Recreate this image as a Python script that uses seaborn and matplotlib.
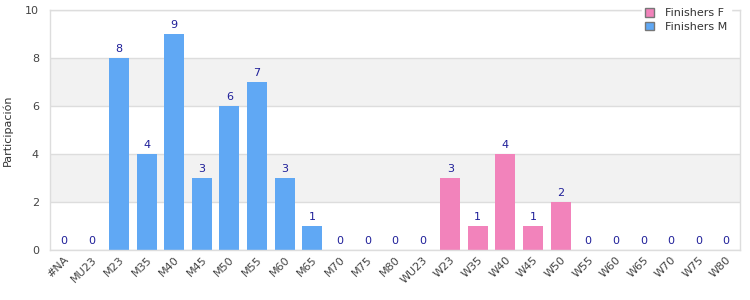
import matplotlib
matplotlib.use("Agg")
import matplotlib.pyplot as plt
import seaborn as sns
import pandas as pd
from matplotlib.patches import Patch

categories = ["#NA", "MU23", "M23", "M35", "M40", "M45", "M50", "M55", "M60", "M65",
              "M70", "M75", "M80", "WU23", "W23", "W35", "W40", "W45", "W50", "W55",
              "W60", "W65", "W70", "W75", "W80"]
values = [0, 0, 8, 4, 9, 3, 6, 7, 3, 1, 0, 0, 0, 0, 3, 1, 4, 1, 2, 0, 0, 0, 0, 0, 0]
series = ["Finishers M"] * 14 + ["Finishers F"] * 11
series_names = ["Finishers F", "Finishers M"]
colors = {"Finishers F": "#f283bb", "Finishers M": "#60a8f4"}
y_ticks = [0, 2, 4, 6, 8, 10]

df = pd.DataFrame({"cat": categories, "val": values, "series": series})

sns.set_style("white")
plt.rcParams["font.family"] = ["DejaVu Sans"]

fig = plt.figure(figsize=(7.5, 3), dpi=100)
ax = fig.add_axes([50 / 750, 50 / 300, 690 / 750, 240 / 300])

ax.axhspan(2, 4, color="#f2f2f2", zorder=0, lw=0)
ax.axhspan(6, 8, color="#f2f2f2", zorder=0, lw=0)
for t in y_ticks:
    ax.axhline(t, color="#dddddd", lw=1, zorder=0.5)

sns.barplot(data=df, x="cat", y="val", hue="series", hue_order=series_names,
            order=categories, palette=colors, dodge=False, width=0.72,
            ax=ax, legend=False, saturation=1, zorder=2, linewidth=0, edgecolor="none")

for cont in ax.containers:
    ax.bar_label(cont, padding=3, color="#1f1f99", fontsize=8)

ax.set_ylim(0, 10)
ax.set_xlim(-0.5, len(categories) - 0.5)
ax.set_yticks(y_ticks)
ax.set_xlabel("")
ax.set_ylabel("Participación", fontsize=8, color="#333333", labelpad=9)
ax.tick_params(axis="both", length=0, labelsize=8, labelcolor="#444444")
ax.tick_params(axis="y", pad=8)
plt.setp(ax.get_xticklabels(), rotation=45, ha="right", rotation_mode="anchor")

for s in ax.spines.values():
    s.set_visible(True)
    s.set_color("#dddddd")
    s.set_linewidth(1)

handles = [Patch(facecolor=colors[n], edgecolor="#777777", label=n) for n in series_names]
leg = ax.legend(handles=handles, loc="upper right", bbox_to_anchor=(0.995, 1.045),
                fontsize=8, frameon=True, handlelength=0.8, handleheight=0.8,
                borderpad=0.3, labelspacing=0.3, handletextpad=1.0, fancybox=False)
leg.get_frame().set_edgecolor("white")
leg.get_frame().set_facecolor("white")
leg.get_frame().set_alpha(1)
for t in leg.get_texts():
    t.set_color("#333333")

fig.savefig("out.png", dpi=100)
